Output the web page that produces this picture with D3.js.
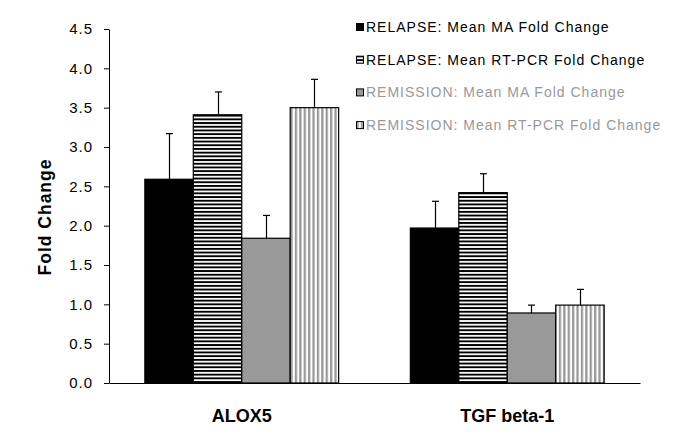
<!DOCTYPE html>
<html><head><meta charset="utf-8">
<script src="https://cdn.jsdelivr.net/npm/d3@7"></script>
<style>body{margin:0;background:#fff}svg{display:block}text{font-family:Arial,"Liberation Sans",sans-serif}</style>
</head><body><svg id="c" width="684" height="439"></svg>
<script>
const categories = ["ALOX5", "TGF beta-1"];
const seriesNames = ["RELAPSE: Mean MA Fold Change", "RELAPSE: Mean RT-PCR Fold Change", "REMISSION: Mean MA Fold Change", "REMISSION: Mean RT-PCR Fold Change"];
const relapseMA = [2.59, 1.97];
const relapsePCR = [3.41, 2.42];
const remissionMA = [1.84, 0.89];
const remissionPCR = [3.50, 0.99];
const relapseMAErr = [0.58, 0.34];
const relapsePCRErr = [0.29, 0.24];
const remissionMAErr = [0.29, 0.10];
const remissionPCRErr = [0.36, 0.20];
const yTicks = [0, 0.5, 1, 1.5, 2, 2.5, 3, 3.5, 4, 4.5];

const values = [relapseMA, relapsePCR, remissionMA, remissionPCR];
const errs = [relapseMAErr, relapsePCRErr, remissionMAErr, remissionPCRErr];

const svg = d3.select("#c");
const defs = svg.append("defs");
const ph = defs.append("pattern").attr("id","hstripe").attr("patternUnits","userSpaceOnUse").attr("width",4).attr("height",3.7);
ph.append("rect").attr("width",4).attr("height",3.7).attr("fill","#fff");
ph.append("rect").attr("width",4).attr("height",1.9).attr("fill","#000");
const pv = defs.append("pattern").attr("id","vstripe").attr("patternUnits","userSpaceOnUse").attr("width",4.4).attr("height",4);
pv.append("rect").attr("width",4.4).attr("height",4).attr("fill","#fff");
pv.append("rect").attr("width",2.3).attr("height",4).attr("fill","#999");
const fills = ["#000", "url(#hstripe)", "#999", "url(#vstripe)"];
const textColors = ["#000", "#000", "#999", "#999"];

const L = 109, R = 640, T = 29, B = 383;
const y = d3.scaleLinear().domain([0, 4.5]).range([B, T]);
const x = d3.scaleBand().domain(categories).range([L, R]).paddingInner(0.27).paddingOuter(0.135);
const xs = d3.scaleBand().domain(d3.range(4)).range([0, x.bandwidth()]);

// bars
values.forEach((vals, si) => {
  const g = svg.append("g");
  g.selectAll("rect").data(categories).join("rect")
    .attr("x", c => x(c) + xs(si))
    .attr("y", (c, i) => y(vals[i]))
    .attr("width", xs.bandwidth())
    .attr("height", (c, i) => y(0) - y(vals[i]))
    .attr("fill", fills[si])
    .attr("stroke", "#000").attr("stroke-width", 1.2);
  // error bars
  categories.forEach((c, i) => {
    const cx = Math.round(x(c) + xs(si) + xs.bandwidth() / 2) + 0.5;
    const top = y(vals[i] + errs[si][i]);
    g.append("line").attr("x1", cx).attr("x2", cx).attr("y1", y(vals[i])).attr("y2", top).attr("stroke", "#000").attr("stroke-width", 1.2);
    g.append("line").attr("x1", cx - 3.5).attr("x2", cx + 3.5).attr("y1", top).attr("y2", top).attr("stroke", "#000").attr("stroke-width", 1.2);
  });
});

// y axis
const yAxis = d3.axisLeft(y).tickValues(yTicks).tickFormat(d3.format(".1f")).tickSize(5).tickSizeOuter(0).tickPadding(11);
const ya = svg.append("g").attr("transform", `translate(${L},0)`).call(yAxis);
ya.selectAll("text").attr("font-size", 15).attr("fill", "#000").style("letter-spacing", "1px").attr("font-family", "Arial, 'Liberation Sans', sans-serif");
ya.selectAll("line,path").attr("stroke", "#000");

// x axis
const xAxis = d3.axisBottom(x).tickSize(0).tickSizeOuter(0).tickPadding(26);
const xa = svg.append("g").attr("transform", `translate(0,${B})`).call(xAxis);
xa.select("path").attr("stroke", "#000");
xa.selectAll("text").attr("font-size", 18).attr("font-weight", "bold").attr("fill", "#000").attr("font-family", "Arial, 'Liberation Sans', sans-serif");

// y label
svg.append("text").attr("transform", "translate(51,217) rotate(-90)").attr("text-anchor", "middle")
  .attr("font-size", 17.5).attr("font-weight", "bold").style("letter-spacing", "1px").text("Fold Change");

// legend
const leg = svg.append("g");
seriesNames.forEach((n, i) => {
  const cy = 27 + i * 32.7;
  leg.append("rect").attr("x", 356.5).attr("y", cy - 3.5).attr("width", 7).attr("height", 7).attr("fill", fills[i]).attr("stroke", "#000").attr("stroke-width", 1);
  leg.append("text").attr("x", 366).attr("y", cy + 5).attr("font-size", 14).attr("fill", textColors[i]).style("letter-spacing", "1px").text(n);
});
</script></body></html>
